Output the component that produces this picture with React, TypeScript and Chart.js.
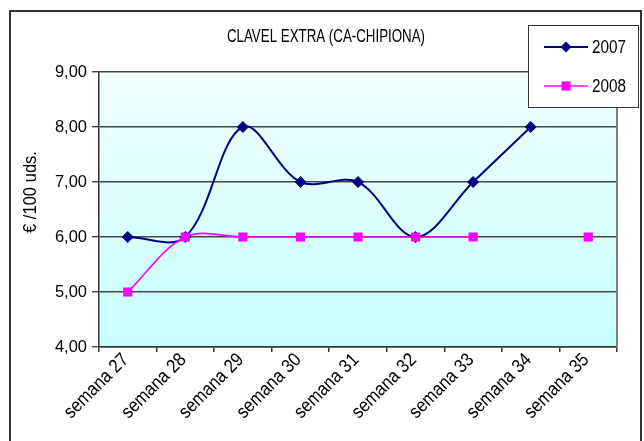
import React, { useEffect, useRef } from "react";
import { Chart, registerables } from "chart.js";

Chart.register(...registerables);

const categories = ["semana 27", "semana 28", "semana 29", "semana 30", "semana 31", "semana 32", "semana 33", "semana 34", "semana 35"];
const values2007: (number | null)[] = [6.0, 6.0, 8.0, 7.0, 7.0, 6.0, 7.0, 8.0, null];
const values2008: (number | null)[] = [5.0, 6.0, 6.0, 6.0, 6.0, 6.0, 6.0, null, 6.0];
const seriesNames = ["2007", "2008"];
const chartTitle = "CLAVEL EXTRA (CA-CHIPIONA)";
const yAxisTitle = "€ /100 uds.";
const yMin = 4;
const yMax = 9;

const FONT = "'Liberation Sans', Arial, sans-serif";
const NAVY = "#000080";
const MAGENTA = "#ff00ff";

function drawText(ctx: any, text: string, x: number, y: number, size: number, sx: number, align: string, baseline: string, rot = 0) {
  ctx.save();
  ctx.translate(x, y);
  if (rot) ctx.rotate(rot);
  ctx.scale(sx, 1);
  ctx.font = `${size}px ${FONT}`;
  ctx.fillStyle = "#000";
  ctx.textAlign = align;
  ctx.textBaseline = baseline;
  ctx.fillText(text, 0, 0);
  ctx.restore();
}

const decor = {
  id: "decor",
  beforeDraw(chart: any) {
    const { ctx, chartArea } = chart;
    const g = ctx.createLinearGradient(0, chartArea.top, 0, chartArea.bottom);
    g.addColorStop(0, "#f0ffff");
    g.addColorStop(1, "#c6ffff");
    ctx.save();
    ctx.fillStyle = g;
    ctx.fillRect(chartArea.left, chartArea.top, chartArea.right - chartArea.left, chartArea.bottom - chartArea.top);
    ctx.restore();
  },
  beforeDatasetsDraw(chart: any) {
    const { ctx, chartArea } = chart;
    ctx.save();
    ctx.strokeStyle = "#808080";
    ctx.lineWidth = 2;
    ctx.beginPath();
    ctx.moveTo(chartArea.right, chartArea.top);
    ctx.lineTo(chartArea.right, chartArea.bottom);
    ctx.stroke();
    ctx.restore();
  },
  afterDraw(chart: any) {
    const { ctx, chartArea } = chart;
    const xs = chart.scales.x;
    const ys = chart.scales.y;
    // tick labels
    ys.ticks.forEach((t: any) => {
      drawText(ctx, String(t.label), chartArea.left - 12, ys.getPixelForValue(t.value), 17, 0.97, "right", "middle");
    });
    xs.ticks.forEach((t: any, i: number) => {
      drawText(ctx, String(t.label), xs.getPixelForTick(i) - 2, chartArea.bottom + 10, 19, 0.88, "right", "middle", -Math.PI / 4);
    });
    // title
    drawText(ctx, chartTitle, 315, 25, 18, 0.74, "center", "middle");
    // y axis title
    drawText(ctx, yAxisTitle, 20, 180, 18, 0.92, "center", "middle", -Math.PI / 2);
    // legend
    ctx.save();
    ctx.fillStyle = "#fff";
    ctx.fillRect(517, 13, 110, 82);
    ctx.strokeStyle = "#333";
    ctx.lineWidth = 1;
    ctx.strokeRect(517.5, 13.5, 110, 82);
    const rows = [35, 74];
    chart.data.datasets.forEach((ds: any, i: number) => {
      const y = rows[i];
      ctx.strokeStyle = ds.borderColor;
      ctx.lineWidth = ds.borderWidth;
      ctx.beginPath();
      ctx.moveTo(533, y);
      ctx.lineTo(577, y);
      ctx.stroke();
      ctx.fillStyle = ds.pointBackgroundColor;
      ctx.beginPath();
      if (ds.pointStyle === "rectRot") {
        const r = ds.pointRadius;
        ctx.moveTo(555 - r, y);
        ctx.lineTo(555, y - r);
        ctx.lineTo(555 + r, y);
        ctx.lineTo(555, y + r);
        ctx.closePath();
      } else {
        const s = ds.pointRadius * Math.SQRT1_2;
        ctx.rect(555 - s, y - s, 2 * s, 2 * s);
      }
      ctx.fill();
      drawText(ctx, ds.label, 581, y + 1, 18, 0.85, "left", "middle");
    });
    ctx.restore();
  },
};

export default function App() {
  const ref = useRef<HTMLCanvasElement | null>(null);
  useEffect(() => {
    if (!ref.current) return;
    const chart = new Chart(ref.current, {
      type: "line",
      data: {
        labels: categories,
        datasets: [
          {
            label: seriesNames[0],
            data: values2007,
            borderColor: NAVY,
            backgroundColor: NAVY,
            pointBackgroundColor: NAVY,
            pointBorderColor: NAVY,
            pointStyle: "rectRot",
            pointRadius: 5.5,
            pointBorderWidth: 1,
            borderWidth: 2,
            tension: 0.35,
            spanGaps: false,
            order: 1,
          },
          {
            label: seriesNames[1],
            data: values2008,
            borderColor: MAGENTA,
            backgroundColor: MAGENTA,
            pointBackgroundColor: MAGENTA,
            pointBorderColor: MAGENTA,
            pointStyle: "rect",
            pointRadius: 6.5,
            pointBorderWidth: 0,
            borderWidth: 1.6,
            tension: 0.35,
            spanGaps: false,
            order: 0,
          },
        ] as any,
      },
      options: {
        responsive: false,
        animation: false,
        layout: { padding: { top: 60, right: 23, left: 0, bottom: 0 } },
        plugins: { legend: { display: false }, title: { display: false }, tooltip: { enabled: false } },
        scales: {
          x: {
            type: "category",
            offset: true,
            afterFit: (s: any) => { s.height = 131; },
            grid: { drawOnChartArea: false, drawTicks: true, tickLength: 5, color: "#333", offset: true, lineWidth: 1.5 },
            border: { display: true, color: "#333", width: 1.5 },
            ticks: { minRotation: 45, maxRotation: 45, autoSkip: false, color: "rgba(0,0,0,0)", padding: 2, font: { family: FONT, size: 15 } },
          },
          y: {
            min: yMin,
            max: yMax,
            afterFit: (s: any) => { s.width = 88; },
            grid: { color: "#454545", lineWidth: 1.4, drawTicks: true, tickLength: 7 },
            border: { display: true, color: "#333", width: 1.5 },
            ticks: {
              stepSize: 1,
              color: "rgba(0,0,0,0)",
              padding: 5,
              font: { family: FONT, size: 17 },
              callback: (v: any) => Number(v).toFixed(2).replace(".", ","),
            },
          },
        },
      } as any,
      plugins: [decor],
    });
    return () => chart.destroy();
  }, []);
  return (
    <div
      style={{
        position: "fixed",
        left: 9,
        top: 10,
        width: 633,
        height: 470,
        border: "2px solid #333",
        boxSizing: "border-box",
        background: "#fff",
      }}
    >
      <canvas ref={ref} width={629} height={466} style={{ display: "block" }} />
    </div>
  );
}
